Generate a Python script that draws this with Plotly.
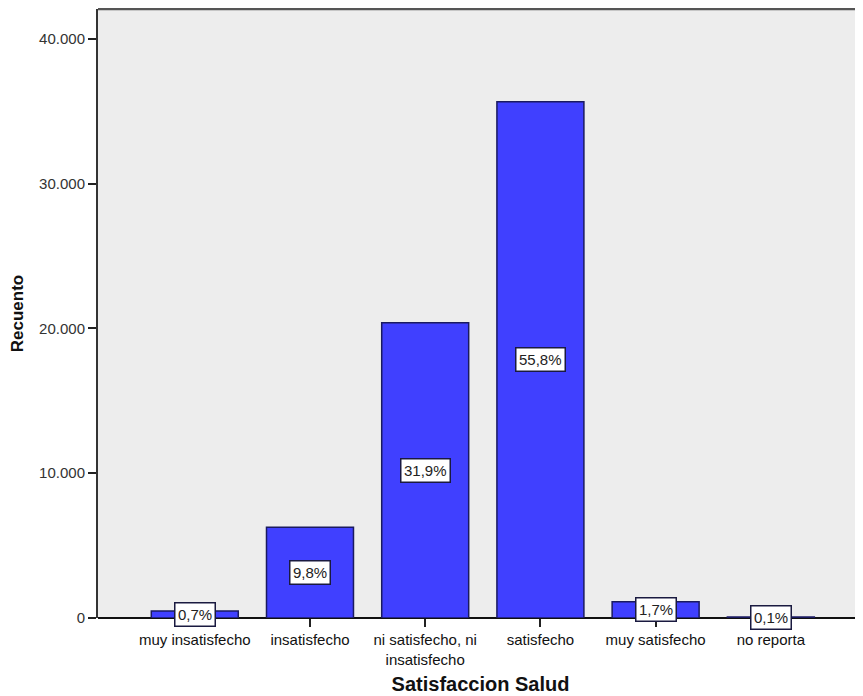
import plotly.graph_objects as go

categories = ["muy insatisfecho", "insatisfecho", "ni satisfecho, ni<br>insatisfecho",
              "satisfecho", "muy satisfecho", "no reporta"]
counts = [480, 6270, 20400, 35660, 1120, 70]
pct_labels = ["0,7%", "9,8%", "31,9%", "55,8%", "1,7%", "0,1%"]
y_ticks = [0, 10000, 20000, 30000, 40000]
y_ticktext = ["0", "10.000", "20.000", "30.000", "40.000"]

xs = list(range(len(categories)))

fig = go.Figure()
fig.add_trace(go.Bar(
    x=xs, y=counts,
    marker=dict(color="#4040ff", line=dict(color="#1a1a60", width=1.5)),
    width=0.755,
    hoverinfo="skip",
))

for x, c, t in zip(xs, counts, pct_labels):
    fig.add_annotation(
        x=x, y=c / 2, text=t, showarrow=False,
        font=dict(family="Liberation Sans, Arial", size=15, color="#222222"),
        bgcolor="white", bordercolor="#1a1a40", borderwidth=1.5, borderpad=2.5,
    )

# top frame line of the plot area
fig.add_shape(type="line", xref="paper", yref="paper", x0=0, x1=1, y0=1, y1=1,
              line=dict(color="#555555", width=2.5))

# page body has an 8px default margin; the figure is sized to fill the rest
fig.update_layout(
    width=855, height=688,
    margin=dict(l=90, r=0, t=1, b=78),
    paper_bgcolor="white",
    plot_bgcolor="#ededed",
    showlegend=False,
    font=dict(family="Liberation Sans, Arial", color="#222222"),
)

fig.update_xaxes(
    automargin=False,
    range=[-0.84, 5.8],
    tickvals=xs, ticktext=categories,
    ticks="outside", ticklen=8, tickwidth=1.5, tickcolor="#222222",
    tickfont=dict(family="Liberation Sans, Arial", size=15, color="#111111"),
    showline=False, showgrid=False, zeroline=False,
    title=dict(text="<b>Satisfaccion Salud</b>", font=dict(size=20, color="#111111"), standoff=10),
)
fig.update_yaxes(
    automargin=False,
    range=[0, 42070],
    tickvals=y_ticks, ticktext=y_ticktext,
    ticks="outside", ticklen=8, tickwidth=2, tickcolor="#222222",
    tickfont=dict(size=15, color="#333333"),
    showline=True, linecolor="#333333", linewidth=2, mirror=False,
    showgrid=False, zeroline=True, zerolinecolor="#111111", zerolinewidth=1.5,
    title=dict(text="<b>Recuento</b>", font=dict(size=17, color="#111111"), standoff=12),
)

fig.write_html("out.html")
